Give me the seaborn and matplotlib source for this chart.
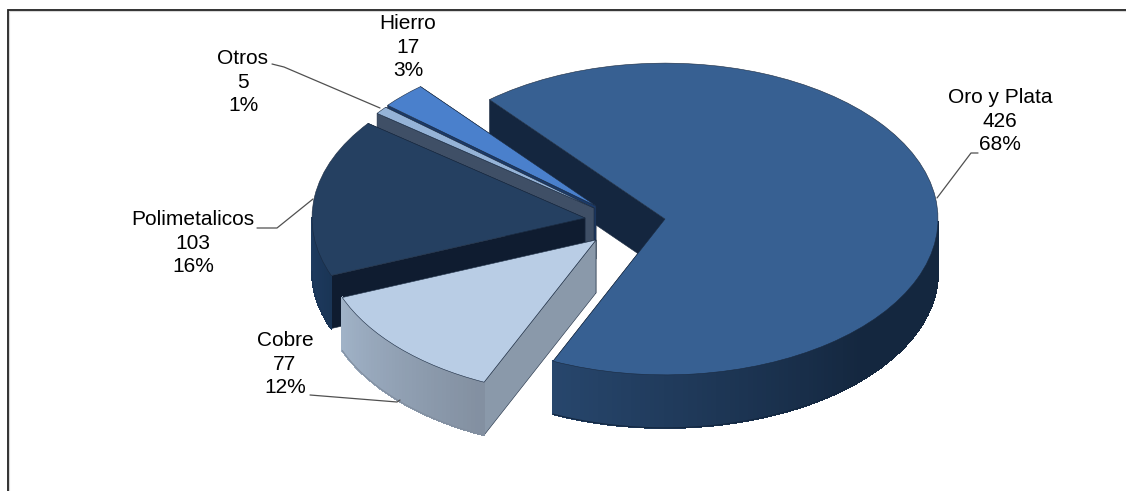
import numpy as np
import seaborn as sns
import matplotlib
matplotlib.use('Agg')
import matplotlib.pyplot as plt
from matplotlib.collections import PolyCollection
from matplotlib.patches import Polygon
from matplotlib.transforms import Affine2D

# data
categories = ['Oro y Plata', 'Cobre', 'Polimetalicos', 'Otros', 'Hierro']
counts = [426, 77, 103, 5, 17]
percents = ['68%', '12%', '16%', '1%', '3%']

# colours per slice
top_colors = ['#376092', '#b9cde5', '#254061', '#95b3d7', '#4a80cc']
cut_colors = ['#14263f', '#8a99aa', '#0f1c30', '#3f4f66', '#1c3a68']
rim_light = ['#27466c', '#a0b2c7', '#1f3d62', '#6f86a3', '#2c5a96']
rim_dark = ['#14273f', '#828fa0', '#1a3556', '#3f4f66', '#1c3a68']

W, H = 1126, 491
SQUASH = 0.571
RADIUS = 273
DEPTH = 53
START = 130
# slice apex in image pixels, each slice is pulled out by hand
APEX = [(665, 219), (596, 240), (585, 218), (594, 208), (596, 206)]
DRAW_ORDER = [0, 4, 3, 2, 1]
EDGE = '#1a2a40'

LABEL_POS = [(1000, 121), (285, 364), (193, 243), (243, 82), (408, 47)]
LEADERS = [
    [(978, 153), (971, 153), (937, 198)],
    [(310, 395), (397, 402), (400, 400)],
    [(257, 228), (277, 228), (313, 199)],
    [(272, 64), (284, 67), (380, 108)],
]


def rim_point(cx, cy, deg):
    a = np.radians(deg)
    return cx + RADIUS * np.cos(a), cy + RADIUS * SQUASH * np.sin(a)


def draw_slice(ax, wedge, i, cx, cy):
    t1, t2 = wedge.theta1, wedge.theta2
    # cut faces along both radial edges
    for t in (t1, t2):
        x, y = rim_point(cx, cy, t)
        ax.add_patch(Polygon([(cx, cy), (x, y), (x, y - DEPTH), (cx, cy - DEPTH)],
                             closed=True, fc=cut_colors[i], ec=EDGE, lw=0.4, zorder=wedge.get_zorder() - 0.5))
    # outer wall, only the part turned to the viewer, shaded by small strips
    steps = np.arange(np.floor(t1), np.ceil(t2) + 1)
    steps = np.clip(steps, t1, t2)
    steps = steps[(np.mod(steps, 360) >= 180)]
    if len(steps) > 1:
        polys, shades = [], []
        light = np.array(matplotlib.colors.to_rgb(rim_light[i]))
        dark = np.array(matplotlib.colors.to_rgb(rim_dark[i]))
        for a, b in zip(steps[:-1], steps[1:]):
            xa, ya = rim_point(cx, cy, a)
            xb, yb = rim_point(cx, cy, b)
            polys.append([(xa, ya), (xb, yb), (xb, yb - DEPTH), (xa, ya - DEPTH)])
            f = min(1, (a - steps[0]) / min(70, steps[-1] - steps[0]))
            shades.append(light * (1 - f) + dark * f)
        # no antialiasing here, otherwise the strip seams show up as stripes
        ax.add_collection(PolyCollection(polys, facecolors=shades, edgecolors=shades, linewidths=0.8,
                                         antialiaseds=False, zorder=wedge.get_zorder() - 0.3))
        xs, ys = rim_point(cx, cy, steps)
        ax.plot(xs, ys - DEPTH, color=rim_dark[i], lw=0.8, zorder=wedge.get_zorder() - 0.2)


def main():
    sns.set_theme(style='white')
    plt.rcParams['font.family'] = ['Liberation Sans', 'DejaVu Sans']

    fig = plt.figure(figsize=(W / 100, H / 100), dpi=100)
    ax = fig.add_axes([0, 0, 1, 1])

    wedges, _ = ax.pie(counts, startangle=START, counterclock=False,
                       colors=sns.color_palette(top_colors),
                       wedgeprops={'edgecolor': EDGE, 'linewidth': 0.4})
    ax.set_aspect('auto')
    ax.set_xlim(0, W)
    ax.set_ylim(0, H)
    ax.axis('off')

    for order, i in enumerate(DRAW_ORDER):
        wedge = wedges[i]
        cx, cy = APEX[i][0], H - APEX[i][1]
        # flatten the disc about its own apex
        squash = Affine2D().translate(-cx, -cy).scale(1, SQUASH).translate(cx, cy)
        wedge.set_center((cx, cy))
        wedge.set_radius(RADIUS)
        wedge.set_transform(squash + ax.transData)
        wedge.set_zorder(3 + order)
        draw_slice(ax, wedge, i, cx, cy)

    for i, name in enumerate(categories):
        x, y = LABEL_POS[i]
        ax.text(x, H - y, f'{name}\n{counts[i]}\n{percents[i]}', ha='center', va='center',
                fontsize=15, linespacing=1.27, color='black', zorder=20)

    for pts in LEADERS:
        xs, ys = zip(*pts)
        ax.plot(xs, [H - v for v in ys], color='#505050', lw=0.9, zorder=19)

    # chart frame, only top and left are inside the picture
    ax.plot([7.5, 7.5, W], [0, H - 9.5, H - 9.5], color='#222222', lw=1.3, zorder=25, solid_joinstyle='miter')
    ax.plot([9, 9, W], [0, H - 11, H - 11], color='#d8d8d8', lw=0.8, zorder=24, solid_joinstyle='miter')

    fig.savefig('out.png', dpi=100, facecolor='white')
    plt.close(fig)


if __name__ == '__main__':
    main()
